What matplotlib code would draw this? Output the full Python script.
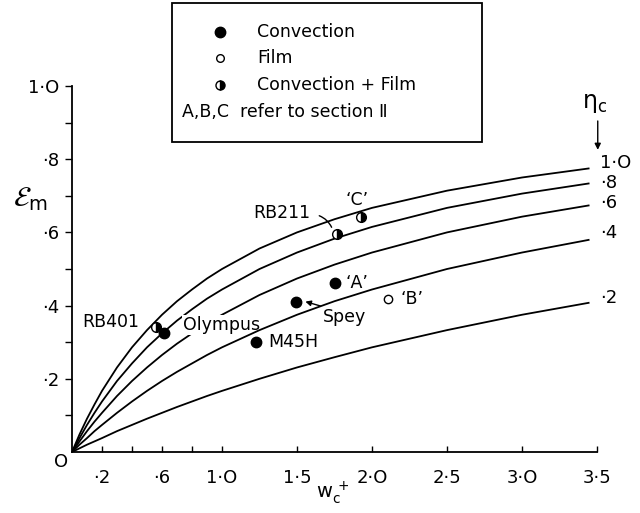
import numpy as np
import matplotlib
matplotlib.use("Agg")
import matplotlib.pyplot as plt
from matplotlib.patches import Rectangle

plt.rcParams['font.family'] = ['DejaVu Sans']
plt.rcParams['mathtext.default'] = 'regular'

# ---- data ----
W = [0, 0.05, 0.1, 0.15, 0.2, 0.3, 0.4, 0.5, 0.6, 0.7, 0.8, 0.9, 1.0, 1.25, 1.5, 1.75, 2.0, 2.5, 3.0, 3.45]
eps_eta10 = [0, .048, .091, .130, .167, .231, .286, .333, .375, .412, .444, .474, .500, .556, .600, .636, .667, .714, .750, .775]
eps_eta08 = [0, .038, .074, .107, .138, .194, .242, .286, .324, .359, .390, .419, .444, .500, .545, .583, .615, .667, .706, .734]
eps_eta06 = [0, .029, .057, .083, .107, .153, .194, .231, .265, .296, .324, .351, .375, .429, .474, .512, .545, .600, .643, .674]
eps_eta04 = [0, .020, .038, .057, .074, .107, .138, .167, .194, .219, .242, .265, .286, .333, .375, .412, .444, .500, .545, .580]
eps_eta02 = [0, .010, .020, .029, .038, .057, .074, .091, .107, .123, .138, .153, .167, .200, .231, .259, .286, .333, .375, .408]
eta_labels = ['1·O', '·8', '·6', '·4', '·2']
eta_label_y = [0.790, 0.735, 0.680, 0.598, 0.421]

conv_names = ['Olympus', 'M45H', 'Spey', "‘A’"]
conv_W = [0.611, 1.227, 1.491, 1.753]
conv_eps = [0.324, 0.301, 0.409, 0.461]

film_names = ["‘B’"]
film_W = [2.109]
film_eps = [0.417]

both_names = ['RB401', 'RB211', "‘C’"]
both_W = [0.558, 1.769, 1.924]
both_eps = [0.342, 0.595, 0.643]

xticks = [0.2, 0.4, 0.6, 0.8, 1.0, 1.5, 2.0, 2.5, 3.0, 3.5]
xticklabels = ['·2', '', '·6', '', '1·O', '1·5', '2·O', '2·5', '3·O', '3·5']
yticks = [0.1, 0.2, 0.3, 0.4, 0.5, 0.6, 0.7, 0.8, 0.9, 1.0]
yticklabels = ['', '·2', '', '·4', '', '·6', '', '·8', '', '1·O']

# ---- figure ----
fig = plt.figure(figsize=(6.4, 5.13), dpi=100)
ax = fig.add_axes([72/640, 61/513, 525/640, 366/513])
ax.set_xlim(0, 3.5)
ax.set_ylim(0, 1.0)
for s in ['top', 'right']:
    ax.spines[s].set_visible(False)
for s in ['left', 'bottom']:
    ax.spines[s].set_linewidth(1.3)
    ax.spines[s].set_clip_on(False)

lw = 1.3
curves = [eps_eta10, eps_eta08, eps_eta06, eps_eta04, eps_eta02]
zorders = [2, 2, 2, 4, 2]
for c, z in zip(curves, zorders):
    ax.plot(W, c, color='black', lw=lw, zorder=z, solid_capstyle='butt',
            solid_joinstyle='round')

for lab, y in zip(eta_labels, eta_label_y):
    ax.text(3.52, y, lab, fontsize=13, ha='left', va='center', clip_on=False)

ax.text(3.487, 0.954, r'$\eta_c$', fontsize=17, ha='center', va='center', clip_on=False)
ax.annotate('', xy=(3.505, 0.818), xytext=(3.505, 0.912),
            arrowprops=dict(arrowstyle='-|>', lw=1.0, color='black', mutation_scale=9),
            annotation_clip=False)

ax.set_xticks(xticks)
ax.set_xticklabels(xticklabels, fontsize=13)
ax.set_yticks(yticks)
ax.set_yticklabels(yticklabels, fontsize=13)
ax.tick_params(axis='x', direction='in', length=4, width=1, pad=12)
ax.tick_params(axis='y', direction='out', length=5, width=1, pad=4)
ax.text(-0.07, -0.027, 'O', fontsize=13, ha='center', va='center', clip_on=False)

# markers
ax.plot(conv_W, conv_eps, 'o', color='black', ms=7.5, zorder=5)
ax.plot(film_W, film_eps, 'o', mfc='white', mec='black', mew=1.0, ms=6, zorder=5)
ax.plot(both_W, both_eps, 'o', fillstyle='right', mfc='black', mfcalt='white',
        mec='black', mew=1.0, ms=7, zorder=5)

# point labels
ax.text(0.738, 0.347, 'Olympus', fontsize=12.5, ha='left', va='center', zorder=3,
        bbox=dict(facecolor='white', edgecolor='none', pad=0.5))
ax.text(1.31, 0.300, 'M45H', fontsize=12.5, ha='left', va='center', zorder=6)
ax.text(1.675, 0.368, 'Spey', fontsize=12.5, ha='left', va='center', zorder=6)
ax.text(1.898, 0.461, "‘A’", fontsize=12.5, ha='center', va='center', zorder=6)
ax.text(2.264, 0.417, "‘B’", fontsize=12.5, ha='center', va='center', zorder=6)
ax.text(1.898, 0.689, "‘C’", fontsize=12.5, ha='center', va='center', zorder=6)
ax.text(0.45, 0.355, 'RB401', fontsize=12.5, ha='right', va='center', zorder=6)
ax.text(1.587, 0.652, 'RB211', fontsize=12.5, ha='right', va='center', zorder=6)

ax.annotate('', xy=(1.538, 0.413), xytext=(1.673, 0.397),
            arrowprops=dict(arrowstyle='-|>', lw=1.0, color='black', mutation_scale=8))
ax.annotate('', xy=(1.738, 0.607), xytext=(1.631, 0.648),
            arrowprops=dict(arrowstyle='-', lw=1.0, color='black',
                            connectionstyle='arc3,rad=-0.25'))

# axis labels
fig.text(30/640, 1 - 199/513, r'$\mathcal{E}_m$', fontsize=20, ha='center', va='center')
fig.text(333/640, 1 - 493/513, r'$w_c^{\,+}$', fontsize=14, ha='center', va='center')

# legend box
fig.patches.append(Rectangle((172/640, 1 - 142/513), 310/640, 139/513,
                             transform=fig.transFigure, fill=False,
                             edgecolor='black', lw=1.3))
lax = fig.add_axes([0, 0, 1, 1], facecolor='none')
lax.set_xlim(0, 640)
lax.set_ylim(513, 0)
lax.axis('off')
lax.plot([220], [32], 'o', color='black', ms=7.5)
lax.plot([220], [58], 'o', mfc='white', mec='black', mew=1.0, ms=5.5)
lax.plot([220], [85], 'o', fillstyle='right', mfc='black', mfcalt='white',
         mec='black', mew=1.0, ms=6.5)
lax.text(257, 32, 'Convection', fontsize=12.5, ha='left', va='center')
lax.text(257, 58, 'Film', fontsize=12.5, ha='left', va='center')
lax.text(257, 85, 'Convection + Film', fontsize=12.5, ha='left', va='center')
lax.text(182, 112, 'A,B,C  refer to section Ⅱ', fontsize=12.5, ha='left', va='center')

fig.savefig('out.png', dpi=100)
